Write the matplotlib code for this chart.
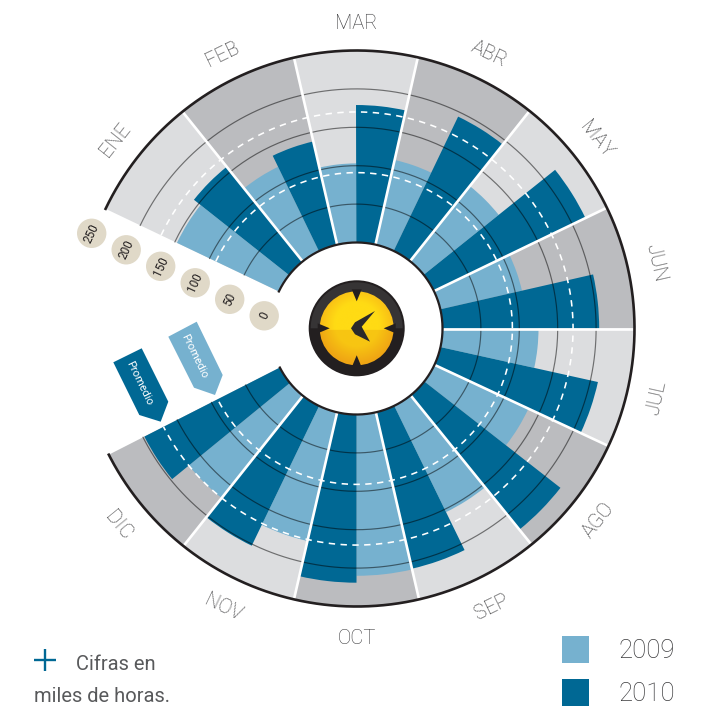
import numpy as np
import matplotlib
matplotlib.use('Agg')
import matplotlib.pyplot as plt
from matplotlib.patches import Circle, Polygon, Rectangle, Wedge
from matplotlib.transforms import ScaledTranslation

# valores en miles de horas
meses = ['ENE', 'FEB', 'MAR', 'ABR', 'MAY', 'JUN', 'JUL', 'AGO', 'SEP', 'OCT', 'NOV', 'DIC']
horas_2009 = [147, 122, 103, 113, 125, 109, 125, 135, 154, 210, 172, 170]
horas_2010 = [158, 138, 179, 194, 219, 204, 210, 225, 209, 219, 202, 198]
promedio_2009 = 91
promedio_2010 = 170
anillos = [50, 100, 150, 200]
etiquetas_escala = ['250', '200', '150', '100', '50', '0']
anios = ['2009', '2010']

CLARO = '#76B1CF'
OSCURO = '#006894'
GRIS_1 = '#DCDDDF'
GRIS_2 = '#BBBCBF'
NEGRO = '#231F20'
TEXTO = '#3A3A3C'
BEIGE = '#E0D9C8'

FUENTE = ['Roboto', 'DejaVu Sans']

fig = plt.figure(figsize=(7.10, 7.06), dpi=100)
fig.patch.set_facecolor('white')

# eje polar: centro (356.5, 328.5), radio exterior 278 px
ax = fig.add_axes([78.5 / 710, 99.5 / 706, 556 / 710, 556 / 706], projection='polar')
ax.set_rlim(0, 250)
ax.set_rorigin(-112)
ax.set_axis_off()

n = len(meses)
# limites de cada mes en grados, medidos en el original
bordes = np.array([154.5, 128.75, 103, 77.25, 51.5, 25.75, 0, -25, -51, -77, -103, -128.5, -153])
anchos = bordes[:-1] - bordes[1:]

ax.bar(np.radians(bordes[:-1] - anchos / 2), [250] * n, width=np.radians(anchos), bottom=0,
       color=[GRIS_1 if i % 2 == 0 else GRIS_2 for i in range(n)], linewidth=0, zorder=1)
ax.bar(np.radians(bordes[:-1] - anchos / 4), horas_2009, width=np.radians(anchos / 2), bottom=0,
       color=CLARO, linewidth=0, zorder=2)
ax.bar(np.radians(bordes[:-1] - 3 * anchos / 4), horas_2010, width=np.radians(anchos / 2), bottom=0,
       color=OSCURO, linewidth=0, zorder=2)

arco = np.radians(np.linspace(bordes[0], bordes[-1], 400))
for r in anillos:
    ax.plot(arco, [r] * len(arco), color='black', alpha=0.5, lw=0.85, zorder=3)
for r in [promedio_2009, promedio_2010]:
    ax.plot(arco, [r] * len(arco), color='white', lw=1.15, ls=(0, (4, 3.4)), zorder=4)
for b in bordes[1:-1]:
    ax.plot(np.radians([b, b]), [0, 250], color='white', lw=1.9, zorder=5, solid_capstyle='butt')
ax.plot(arco, [250] * len(arco), color=NEGRO, lw=1.9, zorder=6, clip_on=False)
ax.plot(arco, [0] * len(arco), color=NEGRO, lw=1.6, zorder=6, clip_on=False)

# nombres de los meses
baja = ax.transData + ScaledTranslation(0, -2.5 / 100, fig.dpi_scale_trans)
for i, mes in enumerate(meses):
    t = bordes[i] - anchos[i] / 2
    rot = t - 90 if t > 0 else t + 90
    ax.text(np.radians(t), 288, mes, rotation=rot, rotation_mode='anchor', ha='center', va='center',
            fontsize=14.5, color=TEXTO, family=FUENTE, fontweight='light', clip_on=False, transform=baja)

# capa en pixeles para escala, reloj y leyenda
top = fig.add_axes([0, 0, 1, 1], facecolor='none')
top.set_xlim(0, 710)
top.set_ylim(706, 0)
top.set_axis_off()

# escala
for k, etiqueta in enumerate(etiquetas_escala):
    x, y = 91.7 + 34.5 * k, 233.3 + 16.5 * k
    top.add_patch(Circle((x, y), 14.7, color=BEIGE, lw=0))
    top.text(x, y, etiqueta, rotation=65, ha='center', va='center', rotation_mode='anchor',
             fontsize=8.5, color=NEGRO, family=FUENTE)

# flechas de promedio
top.add_patch(Polygon([(168.3, 336.7), (196.7, 321.7), (222.7, 375), (215, 395), (194, 387.7)],
                      closed=True, color=CLARO, lw=0))
top.add_patch(Polygon([(113.3, 362.3), (141.7, 348.3), (168.3, 401.7), (160.7, 421.7), (139.3, 415)],
                      closed=True, color=OSCURO, lw=0))
top.text(194, 356, 'Promedio', rotation=-64, ha='center', va='center', rotation_mode='anchor',
         fontsize=8, color='white', family=FUENTE)
top.text(139.5, 383.5, 'Promedio', rotation=-64, ha='center', va='center', rotation_mode='anchor',
         fontsize=8, color='white', family=FUENTE)

# reloj
cx, cy = 356.7, 328.3
top.add_patch(Circle((cx, cy), 48, color=NEGRO, lw=0))
top.add_patch(Wedge((cx, cy), 46, 180, 360, color='#363435', lw=0))

yy, xx = np.mgrid[-1:1:200j, -1:1:200j]
dist = np.sqrt(xx ** 2 + (yy + 0.1) ** 2)
amarillo = np.array([255, 219, 20]) / 255
naranja = np.array([247, 184, 22]) / 255
mezcla = np.clip((dist - 0.6) / 0.45, 0, 1)[..., None]
cara = amarillo * (1 - mezcla) + naranja * mezcla
cara = np.where((yy > 0.05)[..., None], cara * np.array([0.97, 0.90, 0.9]), cara)
img = top.imshow(cara, extent=(cx - 37, cx + 37, cy + 37, cy - 37), zorder=2, aspect='auto')
img.set_clip_path(Circle((cx, cy), 37, transform=top.transData))
top.set_xlim(0, 710)
top.set_ylim(706, 0)

for dx, dy in [(0, -1), (0, 1), (-1, 0), (1, 0)]:
    top.add_patch(Polygon([(cx + dx * 27, cy + dy * 27),
                           (cx + dx * 39 + dy * 5, cy + dy * 39 + dx * 5),
                           (cx + dx * 39 - dy * 5, cy + dy * 39 - dx * 5)],
                          closed=True, color=NEGRO, lw=0, zorder=3))
top.add_patch(Polygon([(375, 311), (361.7, 326.7), (370, 341.7), (355, 334.3), (351, 328.3), (355, 322.3)],
                      closed=True, color='#2B2A2B', lw=0, zorder=4))

# nota
top.plot([34, 55.5], [660, 660], color=OSCURO, lw=1.7, solid_capstyle='butt')
top.plot([44.7, 44.7], [649, 671], color=OSCURO, lw=1.7, solid_capstyle='butt')
top.text(76, 665, 'Cifras en', fontsize=14.5, color='#58595B', family=FUENTE, va='center')
top.text(34, 697, 'miles de horas.', fontsize=14.5, color='#58595B', family=FUENTE, va='center')

# leyenda
for y, c, anio in zip([636, 679], [CLARO, OSCURO], anios):
    top.add_patch(Rectangle((562, y), 27, 27, color=c, lw=0))
    top.text(618, y + 15, anio, fontsize=18.5, color=TEXTO, family=FUENTE, fontweight='light', va='center')

fig.savefig('out.png', dpi=100, facecolor='white')
